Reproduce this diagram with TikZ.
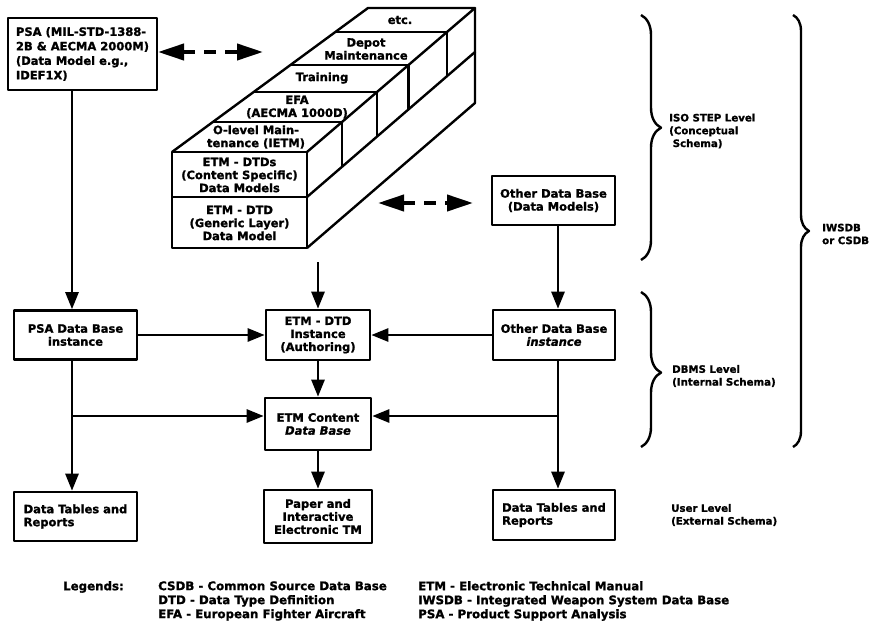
\documentclass[tikz,border=0pt]{standalone}
\usepackage{fontspec}
\setmainfont{DejaVu Sans}[BoldFeatures={FakeBold=1.3},BoldItalicFeatures={FakeBold=1.3}]
\usetikzlibrary{arrows.meta,decorations.pathreplacing}
\begin{document}
\begin{tikzpicture}[x=1pt,y=-1pt,line width=2.4pt,line join=round,
  every node/.style={font=\fontsize{11.5}{13}\selectfont\bfseries,inner sep=2pt},
  box/.style={draw,line width=2.6pt,align=center},
  arr/.style={-{Triangle[length=17pt,width=13pt]},line width=2.6pt},
  darr/.style={{Triangle[length=26pt,width=16pt]}-{Triangle[length=26pt,width=16pt]},line width=4pt,dash pattern=on 12pt off 9pt},
  lbl/.style={anchor=west,align=left,font=\fontsize{10.2}{12.8}\selectfont\bfseries},
  leg/.style={anchor=west,align=left,font=\fontsize{11.8}{14}\selectfont\bfseries},
  brc/.style={decorate,line width=2.4pt}]
\useasboundingbox (0,0) rectangle (872,629);

% top-left PSA box
\node[box,align=left,minimum width=149pt,minimum height=72pt,font=\fontsize{11.5}{14.5}\selectfont\bfseries] (psa) at (82.5,54)
  {PSA (MIL-STD-1388-\\2B \& AECMA 2000M)\\(Data Model e.g.,\\IDEF1X)};

% 3D stack
\draw (172,152) rectangle (307,248);
\draw (172,197) -- (307,197);
\draw (172,152) -- (368,8) -- (475,8) -- (307,152);
\draw (212.8,122) -- (342,122);
\draw (253.7,92) -- (377,92);
\draw (290.4,65) -- (408.5,65);
\draw (335.3,32) -- (447,32);
\draw (307,197) -- (475,52) -- (475,8);
\draw (307,248) -- (475,103) -- (475,52);
\draw (342,122) -- (342,166.8);
\draw (377,92) -- (377,136.6);
\draw (408.5,65) -- (408.5,109.4);
\draw (447,32) -- (447,76.2);
\node (s5) at (400,20) {etc.};
\node[align=center] (s4) at (366,49) {Depot\\Maintenance};
\node (s3) at (322,78) {Training};
\node[align=center] (s2) at (297,107) {EFA\\(AECMA 1000D)};
\node[align=center] (s1) at (256,137) {O-level Main-\\tenance (IETM)};
\node[align=center] (f1) at (239.5,175) {ETM - DTDs\\(Content Specific)\\Data Models};
\node[align=center] (f2) at (239.5,223) {ETM - DTD\\(Generic Layer)\\Data Model};
\coordinate (stackout) at (318,262);

% dashed double arrows
\coordinate (d1a) at (158,52);
\coordinate (d1b) at (263,52);
\draw[darr] (d1a) -- (d1b);
\coordinate (d2a) at (378,203);
\coordinate (d2b) at (473,203);
\draw[darr] (d2a) -- (d2b);

% boxes
\node[box,minimum width=123pt,minimum height=49pt] (odb) at (553.5,200.5) {Other Data Base\\(Data Models)};
\node[box,minimum width=123pt,minimum height=49pt] (psainst) at (75.5,335) {PSA Data Base\\instance};
\node[box,minimum width=104pt,minimum height=50pt] (etmdtd) at (318,335) {ETM - DTD\\Instance\\(Authoring)};
\node[box,minimum width=122pt,minimum height=50pt] (odbinst) at (554,335) {Other Data Base\\\textit{instance}};
\node[box,minimum width=106pt,minimum height=52pt] (etmcont) at (318,424) {ETM Content\\\textit{Data Base}};
\node[box,align=left,minimum width=123pt,minimum height=49pt] (dtl) at (75.5,516.5) {Data Tables and\\Reports};
\node[box,minimum width=108pt,minimum height=53pt] (paper) at (318,516.5) {Paper and\\Interactive\\Electronic TM};
\node[box,align=left,minimum width=122pt,minimum height=50pt] (dtr) at (554,515) {Data Tables and\\Reports};

% connectors
\coordinate (lx) at (72,0);
\coordinate (rx) at (558,0);
\coordinate (jy) at (0,416);
\draw[arr] (psa.south -| lx) -- (psainst.north -| lx);
\draw[arr] (psainst.east) -- (etmdtd.west);
\draw[arr] (odbinst.west) -- (etmdtd.east);
\draw[arr] (stackout) -- (etmdtd.north);
\draw[arr] (etmdtd.south) -- (etmcont.north);
\draw[arr] (etmcont.south) -- (paper.north);
\draw[arr] (psainst.south -| lx) -- (dtl.north -| lx);
\draw[arr] (lx |- jy) -- (etmcont.west |- jy);
\draw[arr] (odb.south -| rx) -- (odbinst.north -| rx);
\draw[arr] (odbinst.south -| rx) -- (dtr.north -| rx);
\draw[arr] (rx |- jy) -- (etmcont.east |- jy);

% braces
\draw[brc,decoration={brace,amplitude=20pt,aspect=0.46}] (641,15) -- (641,260);
\draw[brc,decoration={brace,amplitude=20pt,aspect=0.52}] (641,292) -- (641,447);
\draw[brc,decoration={brace,amplitude=16pt,aspect=0.50}] (793,15) -- (793,447);
\node[lbl] (iso) at (666,131) {ISO STEP Level\\(Conceptual\\\ Schema)};
\node[lbl] (dbms) at (669,376) {DBMS Level\\(Internal Schema)};
\node[lbl] (user) at (668,515) {User Level\\(External Schema)};
\node[lbl] (iwsdb) at (819,234) {IWSDB\\or CSDB};

% legend
\node[leg] (legt) at (60,587) {Legends:};
\node[leg] (lega) at (155,601) {CSDB - Common Source Data Base\\DTD - Data Type Definition\\EFA - European Fighter Aircraft};
\node[leg] (legb) at (415,601) {ETM - Electronic Technical Manual\\IWSDB - Integrated Weapon System Data Base\\PSA - Product Support Analysis};
\end{tikzpicture}
\end{document}
